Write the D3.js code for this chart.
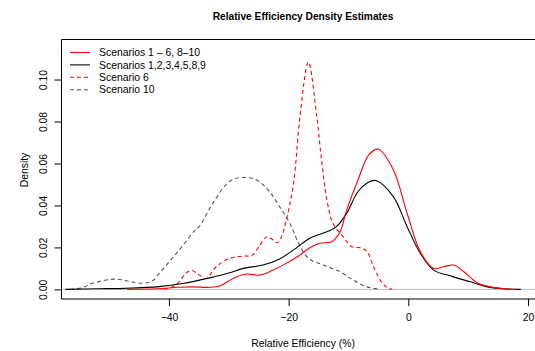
<!DOCTYPE html>
<html>
<head>
<meta charset="utf-8">
<script src="https://cdn.jsdelivr.net/npm/d3@7"></script>
<style>
  html, body { margin: 0; padding: 0; background: #fff; }
  svg { display: block; }
  text { font-family: "Liberation Sans", Arial, Helvetica, sans-serif; fill: #000; }
</style>
</head>
<body>
<script>
// Kernel density estimates of relative efficiency (%), sampled along x.
const allX = [-57.3, -52, -47.2, -41.6, -37.7, -33.2, -30, -27.6, -24.3, -21.5, -18.7, -16.4, -13.6, -12, -10.3, -8.3, -6.4, -5.3, -2.5, -0.2, 2.0, 4.25, 7.3, 10.4, 13.2, 16, 18.8];
const allY = [0, 0.0003, 0.0005, 0.0013, 0.0028, 0.0055, 0.0078, 0.0100, 0.0116, 0.0145, 0.0198, 0.0245, 0.0275, 0.0299, 0.0363, 0.0470, 0.0514, 0.0518, 0.0442, 0.0299, 0.0172, 0.0092, 0.0062, 0.0036, 0.0012, 0.0003, 0];

const mainX = [-47, -42, -38.5, -36, -33.2, -31.5, -29.3, -27.1, -24.8, -22.6, -20.4, -18.1, -16.4, -14.8, -12.8, -11.4, -10.3, -8.3, -6.6, -5.0, -2.5, -0.2, 2.0, 4.25, 5.9, 7.6, 9.3, 11.5, 13.8, 16, 17.7];
const mainY = [0, 0.0003, 0.0010, 0.0012, 0.0010, 0.0016, 0.0052, 0.0073, 0.0068, 0.0092, 0.0124, 0.0164, 0.0200, 0.0220, 0.0227, 0.0275, 0.0378, 0.0530, 0.0641, 0.0668, 0.0570, 0.0363, 0.0180, 0.0100, 0.0108, 0.0116, 0.0084, 0.0032, 0.0012, 0.0003, 0];

const s6X = [-40.8, -39.6, -38.3, -37.1, -36.2, -34.9, -33.8, -32.1, -29.9, -27.3, -26.2, -24.8, -23.6, -22.6, -21.9, -21.2, -20.4, -19.2, -18.1, -16.7, -15.3, -14.5, -13.6, -12.6, -10.9, -9.4, -7.9, -6.9, -5.8, -4.7, -3.6, -2.7];
const s6Y = [0, 0.0010, 0.0036, 0.0079, 0.0090, 0.0068, 0.0052, 0.0108, 0.0148, 0.0159, 0.0160, 0.0211, 0.0251, 0.0235, 0.0222, 0.0250, 0.0330, 0.0500, 0.0824, 0.1083, 0.0824, 0.0617, 0.0426, 0.0315, 0.0251, 0.0203, 0.0198, 0.0180, 0.0108, 0.0044, 0.0010, 0];

const s10X = [-56.5, -54.5, -52.8, -49, -46.5, -44.4, -42.8, -41.6, -40, -38.5, -35.7, -34.9, -32.7, -29.9, -27.9, -25.4, -23.2, -21.5, -19.8, -18.4, -16.7, -14.2, -11.4, -9.2, -6.9, -4.7];
const s10Y = [0, 0.0008, 0.0029, 0.0049, 0.0038, 0.0029, 0.0040, 0.0076, 0.0130, 0.0180, 0.0280, 0.0300, 0.0410, 0.0514, 0.0533, 0.0522, 0.0466, 0.0394, 0.0315, 0.0225, 0.0148, 0.0116, 0.0084, 0.0044, 0.0012, 0];

const xTicks = [-40, -20, 0, 20];
const yTicks = [0, 0.02, 0.04, 0.06, 0.08, 0.10];

const legendLabels = ["Scenarios 1 \u2013 6, 8\u201310", "Scenarios 1,2,3,4,5,8,9", "Scenario 6", "Scenario 10"];

const series = [
  { label: legendLabels[0], xs: mainX, ys: mainY, color: "#ff0000", dash: null },
  { label: legendLabels[1], xs: allX,  ys: allY,  color: "#000000", dash: null },
  { label: legendLabels[2], xs: s6X,   ys: s6Y,   color: "#ff0000", dash: "4,3" },
  { label: legendLabels[3], xs: s10X,  ys: s10Y,  color: "#555555", dash: "4,3" }
];

const W = 535, H = 351;
const plot = { left: 61, right: 536, top: 39.5, bottom: 299 };

const svg = d3.select("body").append("svg")
  .attr("width", W).attr("height", H);

// Axis ranges padded by 4% on each side of the data limits.
function padded(lo, hi) { const d = (hi - lo) * 0.04; return [lo - d, hi + d]; }
const x = d3.scaleLinear().domain(padded(-55.1, 18.4)).range([plot.left, plot.right]);
const y = d3.scaleLinear().domain(padded(0, 0.1145)).range([plot.bottom, plot.top]);

// zero reference line
svg.append("line")
  .attr("x1", plot.left).attr("x2", plot.right)
  .attr("y1", y(0)).attr("y2", y(0))
  .attr("stroke", "#bebebe").attr("stroke-width", 1);

const line = d3.line()
  .x(d => x(d[0])).y(d => y(d[1]))
  .curve(d3.curveCatmullRom.alpha(0.5));

// draw the scenario 10 curve first so the others sit on top
[series[3], series[2], series[1], series[0]].forEach(s => {
  svg.append("path")
    .datum(s.xs.map((v, i) => [v, s.ys[i]]))
    .attr("d", line)
    .attr("fill", "none")
    .attr("stroke", s.color)
    .attr("stroke-width", 1.1)
    .attr("stroke-dasharray", s.dash);
});

// plot frame
svg.append("path")
  .attr("d", `M${plot.right},${plot.top}H${plot.left + 0.5}V${plot.bottom}H${plot.right}`)
  .attr("fill", "none").attr("stroke", "#000").attr("stroke-width", 1);

const fmtX = d => d3.format("d")(d);
const xAxis = svg.append("g")
  .attr("transform", `translate(0,${plot.bottom})`)
  .call(d3.axisBottom(x).tickValues(xTicks).tickSize(7).tickPadding(8).tickFormat(fmtX));
xAxis.select(".domain").remove();
xAxis.selectAll("text")
  .style("font-family", "'Liberation Sans', Arial, sans-serif")
  .style("font-size", "10.4px");

const yAxis = svg.append("g")
  .attr("transform", `translate(${plot.left + 0.5},0)`)
  .call(d3.axisLeft(y).tickValues(yTicks).tickSize(7).tickFormat(d3.format(".2f")));
yAxis.select(".domain").remove();
yAxis.selectAll("text")
  .attr("x", null).attr("dy", null)
  .attr("text-anchor", "middle")
  .attr("transform", "translate(-18,0) rotate(-90)")
  .attr("dy", "0.35em")
  .style("font-family", "'Liberation Sans', Arial, sans-serif")
  .style("font-size", "10.4px");

// titles
svg.append("text")
  .attr("x", 303).attr("y", 20)
  .attr("text-anchor", "middle")
  .style("font-size", "10.2px").style("font-weight", "bold")
  .text("Relative Efficiency Density Estimates");

svg.append("text")
  .attr("x", 303).attr("y", 347)
  .attr("text-anchor", "middle")
  .style("font-size", "10.4px")
  .text("Relative Efficiency (%)");

svg.append("text")
  .attr("transform", "translate(28,170) rotate(-90)")
  .attr("text-anchor", "middle")
  .style("font-size", "10.4px")
  .text("Density");

// legend
const lg = svg.append("g");
series.forEach((s, i) => {
  const yy = 52.5 + i * 12.4;
  lg.append("line")
    .attr("x1", 70).attr("x2", 90).attr("y1", yy).attr("y2", yy)
    .attr("stroke", s.color).attr("stroke-width", 1.1)
    .attr("stroke-dasharray", s.dash);
  lg.append("text")
    .attr("x", 99).attr("y", yy).attr("dy", "0.35em")
    .style("font-size", "10.4px")
    .text(s.label);
});
</script>
</body>
</html>
